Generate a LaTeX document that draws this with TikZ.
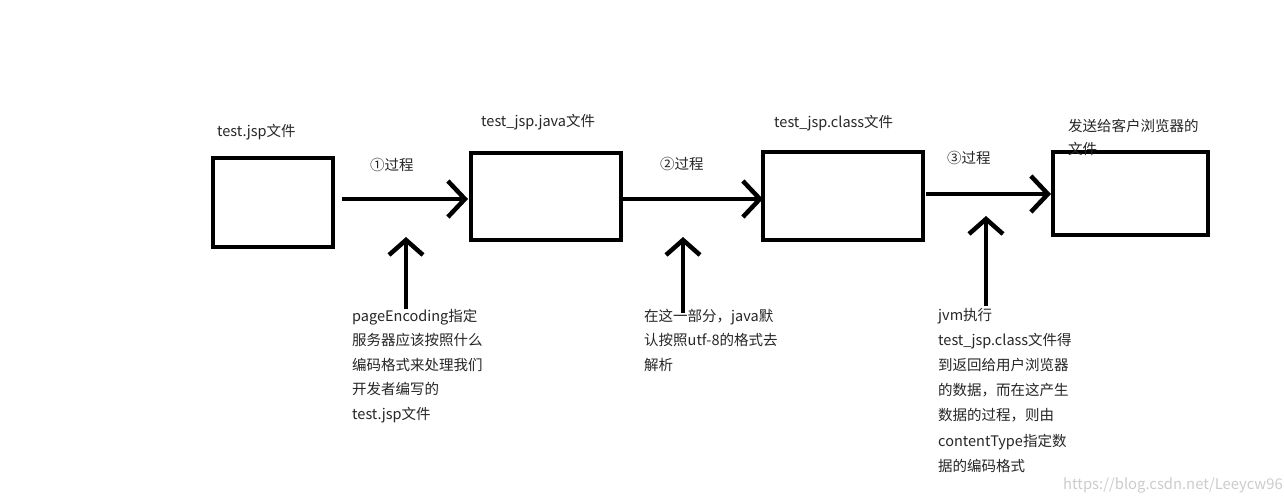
\documentclass[tikz,border=0pt]{standalone}
\usepackage{fontspec}
\setmainfont{Noto Sans CJK SC}
\usetikzlibrary{arrows.meta}
\tikzset{
  box/.style={draw=black, line width=4.5pt, inner sep=0pt, outer sep=0pt, fill=white},
  harr/.style={line width=4.5pt, -{Straight Barb[length=17pt,width=36pt,line width=4.5pt]}},
  varr/.style={line width=4.5pt, -{Straight Barb[length=15pt,width=34pt,line width=4.5pt]}},
  lbl/.style={anchor=base west, inner sep=0pt, text=black!85, font=\fontsize{14.5}{23}\selectfont},
  blk/.style={anchor=base west, inner sep=0pt, text=black!85, align=left, font=\fontsize{14.5}{24.6}\selectfont},
  wm/.style={anchor=base west, inner sep=0pt, text=black!20, font=\fontsize{14.8}{16}\selectfont}
}
\begin{document}
\begin{tikzpicture}[x=1pt,y=-1pt]
\useasboundingbox[fill=white] (0,0) rectangle (1284,500);
% boxes
\node[box, minimum width=120pt, minimum height=89pt] (b1) at (273,202.5) {};
\node[box, minimum width=150pt, minimum height=87pt] (b2) at (546,196.5) {};
\node[box, minimum width=160pt, minimum height=88pt] (b3) at (843,196) {};
\node[box, minimum width=155pt, minimum height=83pt] (b4) at (1130.5,193.5) {};
% titles
\node[lbl] (l1) at (217,136) {test.jsp文件};
\node[lbl] (l2) at (481,126) {test\_jsp.java文件};
\node[lbl] (l3) at (774,128) {test\_jsp.class文件};
\node[lbl, align=left] (l4) at (1068,154) {发送给客户浏览器的\\文件};
% process labels
\node[lbl] (p1) at (370,170) {①过程};
\node[lbl] (p2) at (660,169) {②过程};
\node[lbl] (p3) at (947,163) {③过程};
% horizontal arrows
\draw[harr] ([shift={(9,-3.5)}]b1.east) -- ([shift={(-3,2.5)}]b2.west);
\draw[harr] ([shift={(0,2.5)}]b2.east) -- ([shift={(0,3)}]b3.west);
\draw[harr] ([shift={(3,-2)}]b3.east) -- ([shift={(-2,0.5)}]b4.west);
% description blocks (base anchor = baseline of last line)
\node[blk] (t1) at (352,419.4) {pageEncoding指定\\服务器应该按照什么\\编码格式来处理我们\\开发者编写的\\test.jsp文件};
\node[blk] (t2) at (644,370.2) {在这一部分，java默\\认按照utf-8的格式去\\解析};
\node[blk, font=\fontsize{14.5}{25.2}\selectfont] (t3) at (938,471.2) {jvm执行\\test\_jsp.class文件得\\到返回给用户浏览器\\的数据，而在这产生\\数据的过程，则由\\contentType指定数\\据的编码格式};
% vertical arrows
\coordinate (a1s) at (406,309);
\coordinate (a1e) at (406,237);
\coordinate (a2s) at (683,313);
\coordinate (a2e) at (683,237);
\coordinate (a3s) at (986,306);
\coordinate (a3e) at (986,216);
\draw[varr] (a1s) -- (a1e);
\draw[varr] (a2s) -- (a2e);
\draw[varr] (a3s) -- (a3e);
% watermark
\node[wm] (w) at (1063,489) {https://blog.csdn.net/Leeycw96};
\end{tikzpicture}
\end{document}
